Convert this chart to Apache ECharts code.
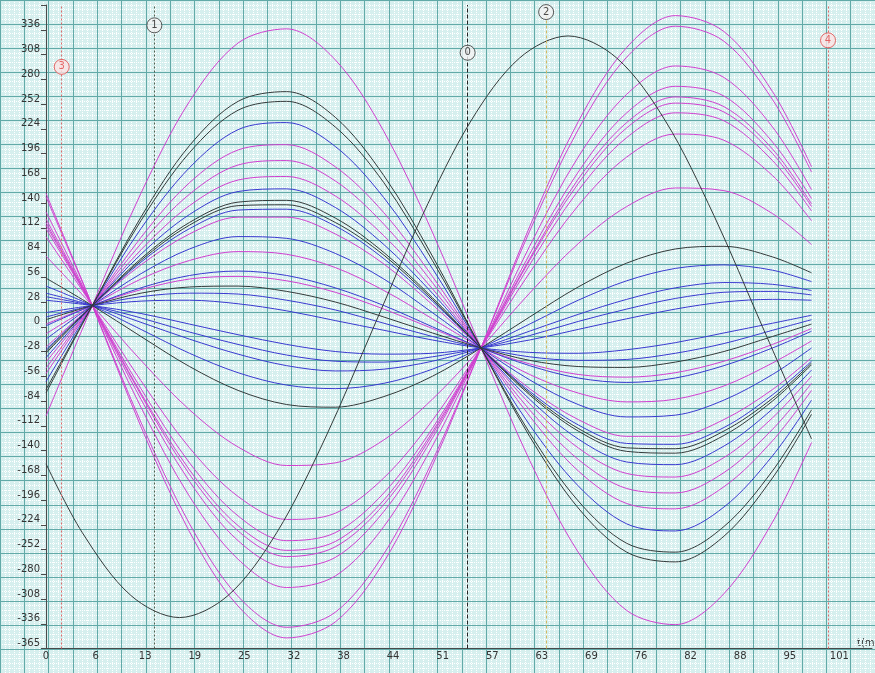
<!DOCTYPE html>
<html>
<head>
<meta charset="utf-8">
<script src="https://cdn.jsdelivr.net/npm/echarts@6/dist/echarts.min.js"></script>
<style>
  html, body { margin: 0; padding: 0; background: #d6efee; }
  #fig_waves { width: 875px; height: 673px; }
</style>
</head>
<body>
<div id="fig_waves"></div>
<script>
// tick labels
var x_step = 6.315;
var x_labels = ['0', '6', '13', '19', '25', '32', '38', '44', '51', '57', '63', '69', '76', '82', '88', '95', '101'];
var y_ticks = [336, 308, 280, 252, 224, 196, 168, 140, 112, 84, 56, 28, 0, -28, -56, -84, -112, -140, -168, -196, -224, -252, -280, -308, -336, -364];
var y_labels = ['336', '308', '280', '252', '224', '196', '168', '140', '112', '84', '56', '28', '0', '-28', '-56', '-84', '-112', '-140', '-168', '-196', '-224', '-252', '-280', '-308', '-336', '-365'];

// sample times (ms) shared by the waves
var t_wave = [0, 5.9, 12.09, 18.28, 24.46, 30.65, 36.84, 43.03, 49.21, 55.4, 61.59, 67.78, 73.96, 80.15, 86.34, 92.53, 97.5];

var waves_magenta = [
    [-101, 24, 151, 255, 321, 337, 302, 221, 107, -24, -151, -255, -321, -337, -302, -221, -131],
    [-53, 24, 101, 163, 200, 206, 181, 129, 57, -24, -101, -163, -200, -206, -181, -129, -72],
    [-47, 24, 94, 150, 183, 188, 165, 116, 50, -24, -94, -150, -183, -188, -165, -116, -64],
    [-40, 24, 87, 137, 166, 170, 148, 103, 43, -24, -87, -137, -166, -170, -148, -103, -56],
    [-23, 24, 70, 105, 124, 124, 105, 71, 25, -24, -70, -105, -124, -124, -105, -71, -35],
    [-8, 24, 54, 75, 85, 82, 67, 41, 9, -24, -54, -75, -85, -82, -67, -41, -16],
    [3, 24, 42, 54, 57, 52, 39, 20, -2, -24, -42, -54, -57, -52, -39, -20, -2],
    [80, 24, -38, -94, -136, -157, -154, -128, -82, -24, 38, 94, 136, 157, 154, 128, 93],
    [102, 24, -61, -137, -192, -218, -211, -171, -106, -24, 61, 137, 192, 218, 211, 171, 120],
    [111, 24, -70, -154, -214, -242, -233, -188, -115, -24, 70, 154, 214, 242, 233, 188, 131],
    [115, 24, -75, -162, -225, -253, -243, -196, -119, -24, 75, 162, 225, 253, 243, 196, 136],
    [118, 24, -77, -167, -231, -260, -249, -201, -122, -24, 77, 167, 231, 260, 249, 201, 139],
    [122, 24, -82, -175, -242, -272, -261, -209, -126, -24, 82, 175, 242, 272, 261, 209, 145],
    [130, 24, -91, -192, -263, -295, -282, -226, -135, -24, 91, 192, 263, 295, 282, 226, 155],
    [147, 24, -108, -223, -305, -340, -323, -257, -152, -24, 108, 223, 305, 340, 323, 257, 175],
    [151, 24, -113, -232, -316, -352, -334, -266, -157, -24, 113, 232, 316, 352, 334, 266, 181]
];

var waves_blue = [
    [-62, 24, 111, 180, 223, 231, 204, 146, 66, -24, -111, -180, -223, -231, -204, -146, -83],
    [-35, 24, 82, 127, 153, 156, 135, 93, 38, -24, -82, -127, -153, -156, -135, -93, -49],
    [-26, 24, 73, 111, 132, 133, 114, 77, 29, -24, -73, -111, -132, -133, -114, -77, -39],
    [-14, 24, 60, 88, 102, 100, 83, 54, 16, -24, -60, -88, -102, -100, -83, -54, -24],
    [1, 24, 44, 58, 63, 58, 44, 24, 0, -24, -44, -58, -63, -58, -44, -24, -5],
    [11, 24, 34, 38, 37, 30, 19, 4, -11, -24, -34, -38, -37, -30, -19, -4, 8],
    [16, 24, 29, 30, 26, 18, 7, -4, -15, -24, -29, -30, -26, -18, -7, 4, 13],
    [30, 24, 15, 3, -9, -20, -28, -31, -30, -24, -15, -3, 9, 20, 28, 31, 30],
    [34, 24, 10, -6, -20, -32, -39, -40, -34, -24, -10, 6, 20, 32, 39, 40, 36],
    [38, 24, 5, -14, -31, -44, -50, -48, -39, -24, -5, 14, 31, 44, 50, 48, 41],
    [46, 24, -3, -30, -52, -66, -70, -64, -48, -24, 3, 30, 52, 66, 70, 64, 51]
];

var waves_black = [
    [-75, 24, 124, 205, 255, 266, 237, 171, 80, -24, -124, -205, -255, -266, -237, -171, -99],
    [-71, 24, 120, 197, 245, 255, 226, 163, 75, -24, -120, -197, -245, -255, -226, -163, -94],
    [-30, 24, 77, 118, 141, 143, 123, 84, 33, -24, -77, -118, -141, -143, -123, -84, -43],
    [-28, 24, 75, 115, 137, 138, 118, 81, 31, -24, -75, -115, -137, -138, -118, -81, -41],
    [8, 24, 38, 45, 46, 40, 28, 11, -7, -24, -38, -45, -46, -40, -28, -11, 3],
    [55, 24, -11, -45, -72, -88, -91, -79, -56, -24, 11, 45, 72, 88, 91, 79, 61]
];

// reference wave, shifted phase
var t_ref = [0, 4.63, 10.81, 17, 23.19, 29.38, 35.56, 41.75, 47.94, 54.13, 60.31, 66.5, 72.69, 78.88, 85.06, 91.25, 97.5];
var v_ref = [-155, -233, -304, -329, -304, -233, -126, 0, 126, 233, 304, 329, 304, 233, 126, 0, -127];

// cursors
var cursor_names = ['0', '1', '2', '3', '4'];
var cursor_t = [53.7, 13.8, 63.7, 2.0, 99.6];
var cursor_label_y = [310, 341, 356, 294, 324];

var fig_waves = {
    plot_id: 'fig_waves',
    plot_chart: null,

    cursor_colors: ['#222222', '#4f5f4f', '#d4b860', '#e06a6a', '#e06a6a'],
    cursor_types: ['dashed', [2, 2], [3, 2], [2, 2], [2, 2]],

    make_wave: function(tt, vals, color, name) {
        var pts = [];
        for (let i = 0; i < tt.length; i++) {
            pts.push([tt[i], vals[i]]);
        }
        return {
            name: name,
            type: 'line',
            xAxisIndex: 2,
            yAxisIndex: 2,
            data: pts,
            smooth: 0.33,   // ~catmull-rom
            symbol: 'none',
            silent: true,
            lineStyle: { color: color, width: 1 },
            z: 3
        };
    },

    paper_axis: function(grid, min, max, step, color, type, z) {
        return {
            gridIndex: grid, type: 'value', z: z,
            min: min, max: max, interval: step,
            axisLine: { show: false }, axisTick: { show: false }, axisLabel: { show: false },
            splitLine: { show: true, lineStyle: { color: color, width: 1, type: type } }
        };
    },

    init: function() {
        var series = [];
        for (let i = 0; i < waves_magenta.length; i++) {
            series.push(this.make_wave(t_wave, waves_magenta[i], '#d040d0', 'm' + i));
        }
        for (let i = 0; i < waves_blue.length; i++) {
            series.push(this.make_wave(t_wave, waves_blue[i], '#3a3ad0', 'b' + i));
        }
        for (let i = 0; i < waves_black.length; i++) {
            series.push(this.make_wave(t_wave, waves_black[i], '#333a3a', 'k' + i));
        }
        series.push(this.make_wave(t_ref, v_ref, '#333a3a', 'ref'));

        // cursor lines
        var lines = [];
        var marks = [];
        for (let i = 0; i < cursor_t.length; i++) {
            lines.push({
                xAxis: cursor_t[i],
                lineStyle: { color: this.cursor_colors[i], type: this.cursor_types[i], width: 1 }
            });
            var red = i >= 3;
            marks.push({
                value: [cursor_t[i], cursor_label_y[i]],
                name: cursor_names[i],
                itemStyle: {
                    color: red ? '#fbe4e4' : '#f2f2f2',
                    borderColor: red ? '#e04848' : '#333333',
                    borderWidth: 1
                },
                label: { color: red ? '#e04848' : '#222222' }
            });
        }
        series.push({
            type: 'scatter',
            xAxisIndex: 2,
            yAxisIndex: 2,
            data: marks,
            symbolSize: 15,
            silent: true,
            z: 5,
            label: {
                show: true,
                position: 'inside',
                formatter: '{b}',
                fontSize: 10,
                fontFamily: 'DejaVu Sans'
            },
            markLine: {
                silent: true,
                symbol: 'none',
                label: { show: false },
                data: lines
            }
        });

        var paper = { left: -3.75, right: -16.7, top: -19.75, bottom: -0.25 };

        this.option = {
            animation: false,
            backgroundColor: '#d6efee',
            grid: [
                paper,   // fine lines
                paper,   // coarse lines
                { left: 46, right: 0, top: 5, bottom: 24.5 }
            ],
            xAxis: [
                this.paper_axis(0, -6.315, 107.355, x_step / 10, '#ffffff', [1, 1], 0),
                this.paper_axis(1, -6.315, 107.355, x_step / 2, '#62aaa8', 'solid', 1),
                {
                    gridIndex: 2, type: 'value', z: 2,
                    min: 0, max: 105.2, interval: x_step,
                    axisLine: { onZero: false, lineStyle: { color: '#4a4a4a' } },
                    axisTick: { show: false },
                    splitLine: { show: false },
                    axisLabel: {
                        margin: 3,
                        color: '#333',
                        fontSize: 10,
                        fontFamily: 'DejaVu Sans',
                        formatter: function(v) {
                            var k = Math.round(v / x_step);
                            if (Math.abs(v - k * x_step) > 0.01 || k >= x_labels.length) return '';
                            return x_labels[k];
                        }
                    }
                }
            ],
            yAxis: [
                this.paper_axis(0, -392, 392, 5.6, '#ffffff', [1, 1], 0),
                this.paper_axis(1, -392, 392, 28, '#62aaa8', 'solid', 1),
                {
                    gridIndex: 2, type: 'value', z: 2,
                    min: -364, max: 364, interval: 28,
                    axisLine: { onZero: false, lineStyle: { color: '#4a4a4a' } },
                    axisTick: { show: true, length: 5, lineStyle: { color: '#4a4a4a' } },
                    splitLine: { show: false },
                    axisLabel: {
                        margin: 6,
                        color: '#333',
                        fontSize: 10,
                        fontFamily: 'DejaVu Sans',
                        verticalAlign: 'bottom',
                        formatter: function(v) {
                            for (let i = 0; i < y_ticks.length; i++) {
                                if (Math.abs(y_ticks[i] - v) < 0.5) return y_labels[i];
                            }
                            return '';
                        }
                    }
                }
            ],
            graphic: [
                {
                    type: 'text', left: 857, top: 638,
                    style: { text: 't(ms)', fill: '#333', fontSize: 10, fontFamily: 'DejaVu Sans' }
                }
            ],
            series: series
        };

        this.plot_chart = echarts.init(document.getElementById(this.plot_id));
        this.plot_chart.setOption(this.option);
    }
};

fig_waves.init();
</script>
</body>
</html>
